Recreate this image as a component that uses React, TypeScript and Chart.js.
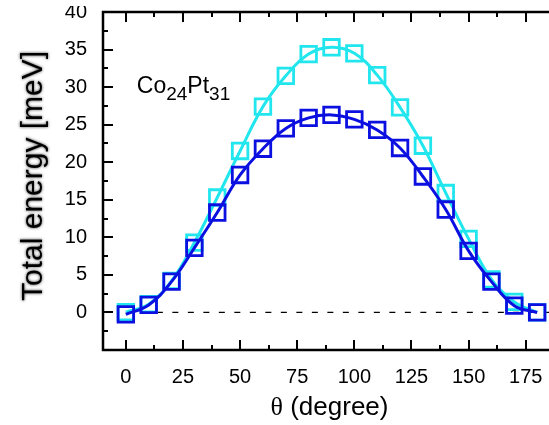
import React, { useEffect, useRef } from "react";
import { Chart, registerables } from "chart.js";

Chart.register(...registerables);

// ---- data ----
const angles = [0, 10, 20, 30, 40, 50, 60, 70, 80, 90, 100, 110, 120, 130, 140, 150, 160, 170, 180];
const cyanEnergy = [0.05, 1.1, 4.2, 9.3, 15.3, 21.5, 27.4, 31.5, 34.4, 35.3, 34.5, 31.6, 27.3, 22.2, 15.9, 9.8, 4.4, 1.4, 0.0];
const blueEnergy = [-0.25, 1.0, 4.1, 8.6, 13.3, 18.3, 21.8, 24.5, 25.9, 26.3, 25.7, 24.3, 21.9, 18.1, 13.7, 8.2, 4.1, 0.9, 0.0];
const zeroLineX = [0, 190];
const zeroLineY = [0, 0];

const xTickValues = [0, 25, 50, 75, 100, 125, 150, 175];
const yTickValues = [0, 5, 10, 15, 20, 25, 30, 35, 40];
const xRange = [-10, 190];
const yRange = [-5, 40];
const xMinorStep = 12.5;
const yMinorStep = 2.5;

const xTitleSymbol = "θ";
const xTitleText = " (degree)";
const yTitleText = "Total energy [meV]";
const annotationParts = ["Co", "24", "Pt", "31"]; // main, subscript, main, subscript
const annotationPos = { x: 4.8, y: 29.2 };

const CYAN = "#22e6ee";
const BLUE = "#0b10e0";
const SANS = "'Liberation Sans', Arial, Helvetica, sans-serif";

const framePlugin = {
  id: "framePlugin",
  afterDatasetsDraw(chart: any) {
    const { ctx, chartArea: a, scales } = chart;
    const xs = scales.x;
    const ys = scales.y;
    ctx.save();
    ctx.strokeStyle = "#000";
    ctx.lineWidth = 2.5;
    ctx.beginPath();
    ctx.moveTo(a.left, a.top);
    ctx.lineTo(a.right, a.top);
    ctx.lineTo(a.right, a.bottom);
    ctx.lineTo(a.left, a.bottom);
    ctx.closePath();
    ctx.stroke();

    ctx.lineWidth = 2;
    ctx.beginPath();
    const xTick = (v: number, len: number) => {
      const px = Math.round(xs.getPixelForValue(v));
      ctx.moveTo(px, a.bottom);
      ctx.lineTo(px, a.bottom - len);
      ctx.moveTo(px, a.top);
      ctx.lineTo(px, a.top + len);
    };
    const yTick = (v: number, len: number) => {
      const py = Math.round(ys.getPixelForValue(v));
      ctx.moveTo(a.left, py);
      ctx.lineTo(a.left + len, py);
      ctx.moveTo(a.right, py);
      ctx.lineTo(a.right - len, py);
    };
    for (let k = Math.ceil(xRange[0] / xMinorStep); k * xMinorStep <= xRange[1]; k++) {
      const v = k * xMinorStep;
      xTick(v, xTickValues.includes(v) ? 10 : 5);
    }
    for (let k = Math.ceil(yRange[0] / yMinorStep); k * yMinorStep <= yRange[1]; k++) {
      const v = k * yMinorStep;
      yTick(v, yTickValues.includes(v) ? 10 : 5);
    }
    ctx.stroke();
    ctx.restore();
  },
  afterDraw(chart: any) {
    const { ctx, chartArea: a, scales } = chart;
    const xs = scales.x;
    const ys = scales.y;
    ctx.save();
    // y title with soft glow
    ctx.save();
    ctx.translate(42, a.top + (a.bottom - a.top) * 0.485);
    ctx.rotate(-Math.PI / 2);
    ctx.font = `30px ${SANS}`;
    ctx.textAlign = "center";
    ctx.textBaseline = "alphabetic";
    ctx.shadowColor = "rgba(0,0,0,0.8)";
    ctx.shadowBlur = 3;
    ctx.fillStyle = "#000";
    ctx.fillText(yTitleText, 0, 0);
    ctx.restore();

    // x title
    ctx.fillStyle = "#000";
    ctx.textBaseline = "alphabetic";
    const symFont = `26px 'Liberation Serif', 'DejaVu Serif', serif`;
    const txtFont = `26px ${SANS}`;
    ctx.font = symFont;
    const w1 = ctx.measureText(xTitleSymbol).width;
    ctx.font = txtFont;
    const w2 = ctx.measureText(xTitleText).width;
    const cx = (a.left + a.right) / 2 - 2;
    const startX = cx - (w1 + w2) / 2;
    const baseY = a.bottom + 65;
    ctx.font = symFont;
    ctx.textAlign = "left";
    ctx.fillText(xTitleSymbol, startX, baseY);
    ctx.font = txtFont;
    ctx.fillText(xTitleText, startX + w1, baseY);

    // annotation Co24Pt31
    let px = xs.getPixelForValue(annotationPos.x);
    const py = ys.getPixelForValue(annotationPos.y);
    annotationParts.forEach((part, i) => {
      const sub = i % 2 === 1;
      ctx.font = sub ? `19px ${SANS}` : `23px ${SANS}`;
      ctx.fillText(part, px, sub ? py + 7 : py);
      px += ctx.measureText(part).width;
    });
    ctx.restore();
  },
};

export default function App() {
  const ref = useRef<HTMLCanvasElement>(null);
  useEffect(() => {
    const canvas = ref.current!;
    const chart = new Chart(canvas, {
      type: "line",
      data: {
        datasets: [
          {
            label: "blue",
            data: angles.map((x, i) => ({ x, y: blueEnergy[i] })),
            borderColor: BLUE,
            borderWidth: 3,
            pointStyle: "rect",
            pointRadius: 11,
            pointBorderWidth: 2.8,
            pointBorderColor: BLUE,
            pointBackgroundColor: "rgba(0,0,0,0)",
            tension: 0.4,
            order: 0,
          },
          {
            label: "cyan",
            data: angles.map((x, i) => ({ x, y: cyanEnergy[i] })),
            borderColor: CYAN,
            borderWidth: 3,
            pointStyle: "rect",
            pointRadius: 11,
            pointBorderWidth: 2.8,
            pointBorderColor: CYAN,
            pointBackgroundColor: "rgba(0,0,0,0)",
            tension: 0.4,
            order: 1,
          },
          {
            label: "zero",
            data: zeroLineX.map((x, i) => ({ x, y: zeroLineY[i] })),
            borderColor: "#000",
            borderWidth: 1.3,
            borderDash: [6, 9.5],
            pointRadius: 0,
            order: 2,
          },
        ],
      },
      options: {
        responsive: false,
        animation: false,
        devicePixelRatio: 1,
        layout: { padding: { left: 0, top: 32, right: 40, bottom: 0 } },
        plugins: { legend: { display: false }, tooltip: { enabled: false } },
        scales: {
          x: {
            type: "linear",
            min: xRange[0],
            max: xRange[1],
            grid: { display: false, drawTicks: false },
            border: { display: false },
            afterBuildTicks: (s: any) => {
              s.ticks = xTickValues.map((value) => ({ value }));
            },
            afterFit: (s: any) => {
              s.height = 75;
              s.paddingLeft = 0;
              s.paddingRight = 0;
            },
            ticks: {
              padding: 15,
              color: "#000",
              font: { family: SANS, size: 20 },
              maxRotation: 0,
              autoSkip: false,
            },
          },
          y: {
            type: "linear",
            min: yRange[0],
            max: yRange[1],
            grid: { display: false, drawTicks: false },
            border: { display: false },
            afterBuildTicks: (s: any) => {
              s.ticks = yTickValues.map((value) => ({ value }));
            },
            afterFit: (s: any) => {
              s.width = 103;
              s.paddingTop = 0;
              s.paddingBottom = 0;
            },
            ticks: {
              padding: 16,
              color: "#000",
              font: { family: SANS, size: 20 },
              autoSkip: false,
            },
          },
        },
      },
      plugins: [framePlugin],
    } as any);
    return () => chart.destroy();
  }, []);

  return (
    <div
      style={{
        position: "fixed",
        left: 0,
        top: 6,
        width: 549,
        height: 419,
        overflow: "hidden",
        background: "#fff",
      }}
    >
      <canvas
        ref={ref}
        width={600}
        height={445}
        style={{ position: "absolute", left: 0, top: -26, width: 600, height: 445 }}
      />
    </div>
  );
}
